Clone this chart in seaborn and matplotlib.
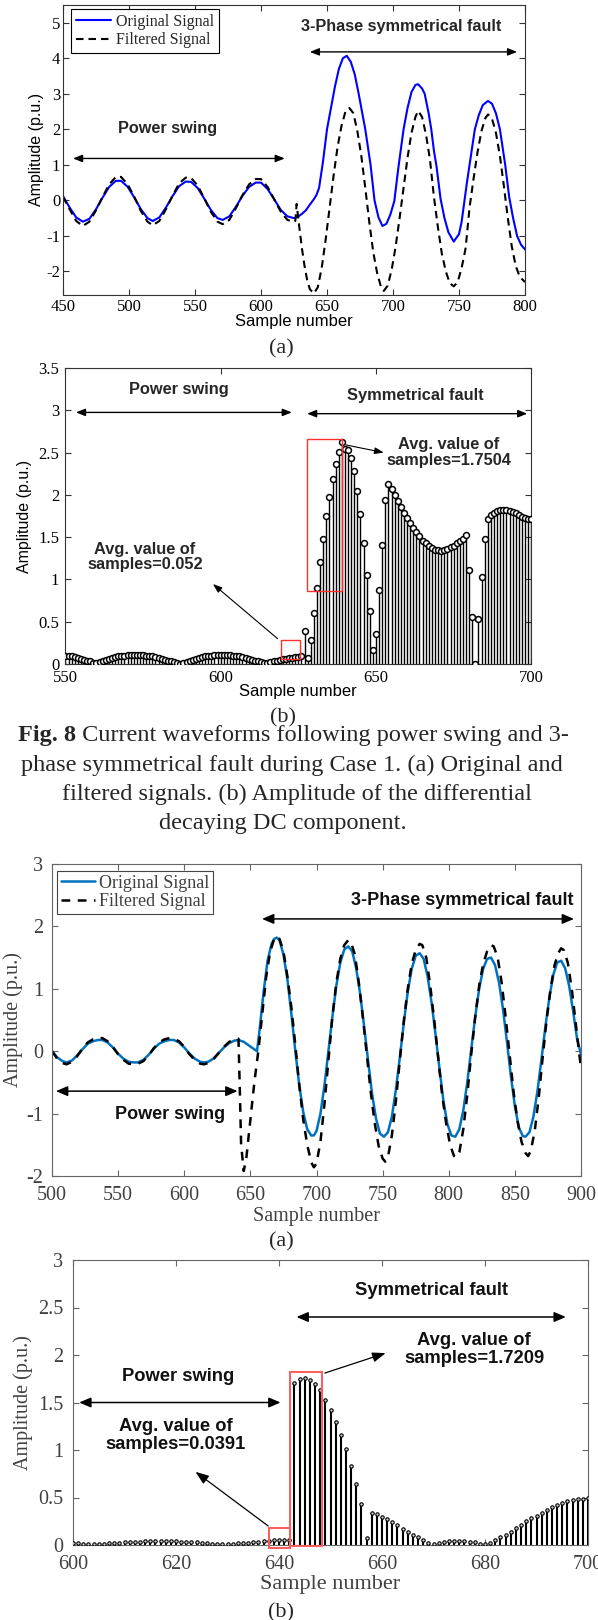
import numpy as np
import pandas as pd
import matplotlib
matplotlib.use("Agg")
import matplotlib.pyplot as plt
import seaborn as sns
from matplotlib.patches import Rectangle
from matplotlib.ticker import FuncFormatter

sns.set_style("ticks")
SERIF = ["Liberation Serif", "DejaVu Serif"]
SANS = ["Liberation Sans", "DejaVu Sans"]
plt.rcParams['font.family'] = SERIF
plt.rcParams['axes.unicode_minus'] = False

# ---------------- Panel 1 (Fig 8a) ----------------
p1_orig_x = [450, 455, 460, 465, 470, 475, 480, 485, 490, 494, 499, 504, 509, 514, 518, 523, 528, 533,
             538, 543, 547, 552, 557, 562, 567, 571, 576, 581, 586, 591, 596, 600, 605, 610, 615, 620,
             625, 628, 631, 634, 637, 640, 642, 644, 647, 650, 653, 656, 659, 662, 665, 668, 671, 674,
             677, 679, 681, 683, 686, 689, 692, 695, 698, 701, 704, 708, 711, 714, 717, 719, 722, 724,
             727, 729, 731, 733, 736, 739, 742, 746, 750, 752, 754, 756, 758, 762, 765, 768, 772, 775,
             778, 781, 783, 785, 788, 791, 794, 797, 800]
p1_orig_y = [0.12, -0.2, -0.48, -0.6, -0.52, -0.25, 0.08, 0.38, 0.55, 0.55, 0.38, 0.08, -0.25, -0.5,
             -0.58, -0.48, -0.2, 0.12, 0.4, 0.53, 0.52, 0.35, 0.05, -0.27, -0.5, -0.55, -0.45, -0.18,
             0.13, 0.38, 0.5, 0.5, 0.32, 0.03, -0.27, -0.45, -0.5, -0.46, -0.38, -0.28, -0.12, 0.03,
             0.15, 0.35, 1.1, 2.0, 2.6, 3.2, 3.7, 4.0, 4.07, 3.9, 3.55, 3.0, 2.4, 2.0, 1.5, 1.0, 0.0,
             -0.48, -0.72, -0.66, -0.4, -0.02, 0.9, 2.0, 2.6, 3.05, 3.25, 3.27, 3.15, 3.0, 2.45, 2.0,
             1.4, 0.95, 0.05, -0.5, -0.9, -1.16, -0.95, -0.6, -0.05, 0.5, 1.0, 2.0, 2.4, 2.68, 2.8,
             2.72, 2.45, 2.0, 1.5, 1.0, 0.1, -0.5, -1.0, -1.25, -1.38]
p1_filt_x = [450, 455, 460, 465, 470, 475, 480, 485, 490, 494, 499, 504, 509, 514, 518, 523, 528, 533,
             538, 543, 547, 552, 557, 562, 567, 571, 576, 581, 586, 591, 596, 600, 605, 610, 615, 620,
             624, 626, 627, 629, 631, 633, 635, 637, 640, 643, 646, 649, 652, 655, 658, 661, 664, 667,
             670, 673, 676, 679, 682, 685, 688, 691, 693, 696, 699, 702, 705, 708, 711, 714, 717, 719,
             722, 725, 728, 731, 734, 737, 740, 743, 746, 749, 752, 755, 758, 761, 764, 767, 770, 772,
             775, 778, 781, 784, 787, 790, 793, 796, 800]
p1_filt_y = [0.1, -0.25, -0.58, -0.72, -0.6, -0.28, 0.1, 0.45, 0.66, 0.66, 0.45, 0.1, -0.3, -0.6, -0.7,
             -0.58, -0.25, 0.13, 0.48, 0.64, 0.63, 0.42, 0.06, -0.32, -0.6, -0.67, -0.55, -0.22, 0.15,
             0.45, 0.6, 0.6, 0.38, 0.03, -0.32, -0.55, -0.6, -0.58, -0.1, -0.75, -1.35, -1.85, -2.25,
             -2.5, -2.62, -2.45, -1.9, -1.1, -0.2, 0.7, 1.5, 2.1, 2.5, 2.6, 2.45, 1.95, 1.25, 0.35,
             -0.6, -1.45, -2.05, -2.45, -2.55, -2.4, -1.95, -1.3, -0.5, 0.35, 1.2, 1.9, 2.35, 2.52,
             2.35, 1.85, 1.15, 0.1, -0.75, -1.5, -2.0, -2.33, -2.42, -2.3, -1.9, -1.35, -0.2, 0.6,
             1.35, 1.95, 2.32, 2.42, 2.3, 1.9, 1.25, 0.4, -0.5, -1.3, -1.85, -2.15, -2.3]

# ---------------- Panel 2 (Fig 8b) ----------------
p2_x = list(range(550, 701))
p2_y = [0.10, 0.10, 0.09, 0.08, 0.07, 0.06, 0.05, 0.04, 0.03, 0.015,
        0.01, 0.02, 0.03, 0.045, 0.06, 0.07, 0.08, 0.09, 0.095, 0.10,
        0.105, 0.11, 0.11, 0.11, 0.11, 0.105, 0.10, 0.095, 0.09, 0.08,
        0.07, 0.06, 0.05, 0.04, 0.03, 0.02, 0.01, 0.005, 0.01, 0.02,
        0.035, 0.05, 0.06, 0.07, 0.08, 0.09, 0.095, 0.10, 0.105, 0.11,
        0.11, 0.11, 0.11, 0.105, 0.10, 0.095, 0.09, 0.08, 0.07, 0.06,
        0.05, 0.04, 0.03, 0.02, 0.01, 0.01, 0.02, 0.03, 0.04, 0.05,
        0.06, 0.065, 0.07, 0.075, 0.08, 0.085, 0.09,
        0.39, 0.07, 0.28, 0.60, 0.90, 1.21, 1.48, 1.75, 1.98, 2.19,
        2.36, 2.51, 2.62, 2.54, 2.53, 2.44, 2.28, 2.05, 1.77, 1.43,
        1.05, 0.63, 0.16, 0.35, 0.87, 1.41, 1.94, 2.13, 2.07, 2.00,
        1.93, 1.86, 1.79, 1.73, 1.67, 1.61, 1.56, 1.51, 1.46, 1.43,
        1.40, 1.37, 1.35, 1.35, 1.34, 1.35, 1.36, 1.38, 1.40, 1.43,
        1.46, 1.48, 1.52, 1.11, 0.55, 0.00, 0.53, 1.03, 1.48, 1.72,
        1.76, 1.79, 1.81, 1.82, 1.82, 1.82, 1.81, 1.80, 1.78, 1.76,
        1.74, 1.73, 1.72, 1.71]

# ---------------- Panel 3 (Fig 9a) ----------------
p3_orig_x = [500, 504, 508, 511, 515, 519, 523, 527, 531, 535, 538, 542, 546, 550, 554, 558, 562, 565,
             569, 573, 577, 581, 585, 589, 592, 596, 600, 604, 608, 612, 615, 618, 622, 626, 630, 634,
             638, 641, 645, 649, 653, 655, 657, 660, 663, 666, 668, 670, 672, 675, 678, 681, 684, 687,
             690, 693, 696, 698, 700, 703, 706, 709, 712, 715, 718, 721, 724, 727, 730, 733, 736, 739,
             742, 745, 748, 751, 754, 757, 760, 763, 766, 769, 772, 775, 778, 781, 784, 787, 790, 793,
             796, 799, 802, 805, 808, 811, 814, 817, 820, 823, 826, 829, 832, 835, 838, 841, 844, 847,
             850, 853, 856, 858, 861, 864, 867, 870, 873, 876, 879, 882, 885, 888, 891, 894, 897, 900]
p3_orig_y = [0.0, -0.1, -0.16, -0.18, -0.15, -0.07, 0.03, 0.12, 0.16, 0.18, 0.18, 0.14, 0.06, -0.04,
             -0.12, -0.17, -0.18, -0.18, -0.14, -0.06, 0.04, 0.12, 0.16, 0.18, 0.18, 0.14, 0.06, -0.04,
             -0.12, -0.17, -0.18, -0.17, -0.12, -0.03, 0.06, 0.13, 0.17, 0.18, 0.15, 0.09, 0.03, 0.0,
             0.35, 0.95, 1.45, 1.72, 1.8, 1.82, 1.78, 1.55, 1.15, 0.6, 0.0, -0.55, -0.98, -1.25, -1.35,
             -1.35, -1.28, -1.0, -0.55, 0.0, 0.55, 1.05, 1.42, 1.63, 1.68, 1.6, 1.33, 0.92, 0.4, -0.15,
             -0.68, -1.08, -1.32, -1.37, -1.3, -1.05, -0.62, -0.1, 0.45, 0.95, 1.32, 1.53, 1.57, 1.48,
             1.2, 0.78, 0.27, -0.28, -0.8, -1.17, -1.35, -1.37, -1.25, -0.95, -0.5, 0.03, 0.55, 1.0,
             1.32, 1.48, 1.5, 1.38, 1.1, 0.68, 0.15, -0.4, -0.88, -1.22, -1.36, -1.37, -1.3, -1.05,
             -0.65, -0.15, 0.38, 0.85, 1.22, 1.42, 1.45, 1.33, 1.05, 0.65, 0.2, -0.05]
p3_filt_x = [500, 504, 508, 511, 515, 519, 523, 527, 531, 535, 538, 542, 546, 550, 554, 558, 562, 565,
             569, 573, 577, 581, 585, 589, 592, 596, 600, 604, 608, 612, 615, 618, 622, 626, 630, 634,
             638, 641, 642, 643, 645, 647, 650, 653, 656, 659, 662, 665, 668, 670, 672, 675, 678, 681,
             684, 687, 690, 693, 696, 698, 700, 703, 706, 709, 712, 715, 718, 721, 724, 726, 729, 732,
             735, 738, 741, 744, 747, 750, 752, 754, 757, 760, 763, 766, 769, 772, 775, 778, 780, 783,
             786, 789, 792, 795, 798, 801, 804, 806, 808, 811, 814, 817, 820, 823, 826, 829, 832, 834,
             837, 840, 843, 846, 849, 852, 855, 858, 860, 862, 865, 868, 871, 874, 877, 880, 883, 885,
             887, 890, 893, 896, 899, 900]
p3_filt_y = [0.0, -0.12, -0.19, -0.21, -0.17, -0.08, 0.04, 0.14, 0.19, 0.21, 0.21, 0.16, 0.07, -0.05,
             -0.14, -0.2, -0.21, -0.2, -0.16, -0.07, 0.05, 0.14, 0.19, 0.21, 0.2, 0.16, 0.07, -0.05,
             -0.14, -0.2, -0.21, -0.19, -0.13, -0.03, 0.07, 0.15, 0.19, 0.2, -0.6, -1.5, -1.92, -1.7,
             -1.1, -0.5, 0.0, 0.6, 1.2, 1.6, 1.8, 1.84, 1.8, 1.6, 1.2, 0.7, 0.1, -0.55, -1.1, -1.5,
             -1.78, -1.86, -1.8, -1.45, -0.85, -0.15, 0.55, 1.1, 1.48, 1.7, 1.78, 1.75, 1.55, 1.1, 0.55,
             -0.05, -0.65, -1.15, -1.52, -1.72, -1.77, -1.7, -1.35, -0.8, -0.15, 0.48, 1.0, 1.4, 1.62,
             1.72, 1.7, 1.5, 1.05, 0.5, -0.1, -0.7, -1.15, -1.5, -1.68, -1.7, -1.62, -1.25, -0.7,
             -0.05, 0.55, 1.05, 1.4, 1.6, 1.7, 1.68, 1.5, 1.1, 0.55, -0.05, -0.65, -1.12, -1.45, -1.63,
             -1.68, -1.6, -1.28, -0.75, -0.1, 0.5, 1.0, 1.38, 1.58, 1.65, 1.62, 1.42, 1.0, 0.45, -0.1,
             -0.25]

# ---------------- Panel 4 (Fig 9b) ----------------
p4_x = list(range(600, 701))
p4_y = [0.02, 0.02, 0.015, 0.01, 0.01, 0.01, 0.015, 0.02, 0.02, 0.025,
        0.03, 0.035, 0.035, 0.035, 0.04, 0.04, 0.045, 0.045, 0.04, 0.04,
        0.04, 0.035, 0.035, 0.03, 0.03, 0.025, 0.02, 0.015, 0.01, 0.01,
        0.01, 0.015, 0.02, 0.02, 0.025, 0.03, 0.035, 0.04, 0.045, 0.05,
        0.05, 0.055, 0.055,
        1.71, 1.75, 1.76, 1.74, 1.69, 1.63, 1.53,
        1.42, 1.30, 1.16, 1.01, 0.83, 0.64, 0.43, 0.07, 0.34, 0.33,
        0.30, 0.27, 0.24, 0.21, 0.17, 0.14, 0.11, 0.08, 0.05, 0.02,
        0.01, 0.02, 0.03, 0.04, 0.04, 0.04, 0.04, 0.035, 0.03, 0.015,
        0.01, 0.02, 0.05, 0.08, 0.11, 0.14, 0.18, 0.21, 0.25, 0.28,
        0.31, 0.34, 0.37, 0.40, 0.42, 0.44, 0.46, 0.47, 0.48, 0.485,
        0.49]

legend_labels = ["Original Signal", "Filtered Signal"]
caption_bold = "Fig. 8"
caption_lines = [" Current waveforms following power swing and 3-",
                 "phase symmetrical fault during Case 1. (a) Original and",
                 "filtered signals. (b) Amplitude of the differential",
                 "decaying DC component."]

# ---------------- figure ----------------
W, H = 598, 1620
fig = plt.figure(figsize=(W / 100, H / 100), dpi=100)


def add_ax(x0, x1, y0, y1):
    return fig.add_axes([x0 / W, 1 - y1 / H, (x1 - x0) / W, (y1 - y0) / H])


def ftext(x, y, s, **kw):
    return fig.text(x / W, 1 - y / H, s, **kw)


def style_ax(ax, spine_color, tick_size, label_color, xpad, ypad):
    for s in ax.spines.values():
        s.set_visible(True)
        s.set_color(spine_color)
        s.set_linewidth(0.8)
    ax.tick_params(direction='in', top=True, right=True, length=4, width=0.8,
                   color=spine_color, labelsize=tick_size, labelcolor=label_color)
    ax.tick_params(axis='x', pad=xpad)
    ax.tick_params(axis='y', pad=ypad)
    for lab in ax.get_xticklabels() + ax.get_yticklabels():
        lab.set_family(SERIF)


gfmt = FuncFormatter(lambda v, p: f"{v:g}")

def darrow(ax, x0, x1, y, lw=1.0, hl=0.55, hw=0.22):
    ax.annotate('', xy=(x1, y), xytext=(x0, y),
                arrowprops=dict(arrowstyle=f'<|-|>,head_length={hl},head_width={hw}',
                                color='black', lw=lw, shrinkA=0, shrinkB=0))

def sarrow(ax, x0, y0, x1, y1, lw=0.8, hl=0.55, hw=0.2):
    ax.annotate('', xy=(x1, y1), xytext=(x0, y0),
                arrowprops=dict(arrowstyle=f'-|>,head_length={hl},head_width={hw}',
                                color='black', lw=lw, shrinkA=0, shrinkB=0))

# ---- Panel 1 ----
ax1 = add_ax(63, 525, 5, 294.5)
sns.lineplot(x=p1_orig_x, y=p1_orig_y, ax=ax1, color='#0000FF', lw=1.5,
             label=legend_labels[0], sort=False, estimator=None)
sns.lineplot(x=p1_filt_x, y=p1_filt_y, ax=ax1, color='black', lw=1.5,
             linestyle=(0, (3.6, 2.4)), label=legend_labels[1], sort=False, estimator=None)
ax1.set_xlim(450, 800)
ax1.set_ylim(-2.65, 5.5)
ax1.set_xticks(range(450, 801, 50))
ax1.set_yticks(range(-2, 6))
style_ax(ax1, '#333333', 12, 'black', 3, 2)
ax1.set_xlabel("Sample number", family=SANS, fontsize=12, color='black')
ax1.xaxis.label.set_va('center')
ax1.xaxis.set_label_coords(0.5, -0.094)
ax1.set_ylabel("Amplitude (p.u.)", family=SANS, fontsize=11.5, color='black')
ax1.yaxis.label.set_va('center')
ax1.yaxis.set_label_coords(-0.058, 0.5)
leg = ax1.legend(loc='upper left', bbox_to_anchor=(0.0173, 0.986), borderaxespad=0,
                 prop={'family': SERIF, 'size': 11.5}, handlelength=2.2, handletextpad=0.3,
                 labelspacing=0.15, borderpad=0.3, frameon=True, fancybox=False,
                 edgecolor='black', framealpha=1)
leg.get_frame().set_linewidth(0.8)
ax1.text(706, 4.89, "3-Phase symmetrical fault", family=SANS, fontweight='bold', fontsize=11.7,
         ha='center', va='center')
darrow(ax1, 637, 794, 4.18)
ax1.text(529, 2.01, "Power swing", family=SANS, fontweight='bold', fontsize=11.7,
         ha='center', va='center')
darrow(ax1, 457.6, 618, 1.18)
ftext(281, 349, "(a)", family=SERIF, fontsize=16, ha='center', va='center')

# ---- Panel 2 ----
ax2 = add_ax(65.4, 531.3, 368, 664)
ax2.vlines(p2_x, 0, p2_y, colors='black', lw=1.0, zorder=2)
sns.scatterplot(x=p2_x, y=p2_y, ax=ax2, marker='o', s=18, facecolor='white',
                edgecolor='black', linewidth=1.1, zorder=3, clip_on=True)
ax2.set_xlim(550, 700)
ax2.set_ylim(0, 3.5)
ax2.set_xticks([550, 600, 650, 700])
ax2.set_yticks(np.arange(0, 3.51, 0.5))
ax2.yaxis.set_major_formatter(gfmt)
style_ax(ax2, '#333333', 12, 'black', 4, 4.5)
ax2.set_xlabel("Sample number", family=SANS, fontsize=12, color='black')
ax2.xaxis.label.set_va('center')
ax2.xaxis.set_label_coords(0.5, -0.0936)
ax2.set_ylabel("Amplitude (p.u.)", family=SANS, fontsize=11.5, color='black')
ax2.yaxis.label.set_va('center')
ax2.yaxis.set_label_coords(-0.0874, 0.5)
ax2.text(586.6, 3.24, "Power swing", family=SANS, fontweight='bold', fontsize=11.8,
         ha='center', va='center')
darrow(ax2, 553.4, 622.9, 2.975)
ax2.text(662.8, 3.18, "Symmetrical fault", family=SANS, fontweight='bold', fontsize=11.8,
         ha='center', va='center')
darrow(ax2, 627.8, 698.7, 2.96)
ax2.add_patch(Rectangle((627.8, 0.866), 639 - 627.8, 2.66 - 0.866, fill=False,
                        edgecolor='#ff3030', lw=1.0, zorder=4))
ax2.add_patch(Rectangle((619.5, 0.056), 625.6 - 619.5, 0.284 - 0.056, fill=False,
                        edgecolor='#ff3030', lw=1.0, zorder=4))
ax2.text(673.5, 2.50, "Avg. value of\nsamples=1.7504", family=SANS, fontweight='bold',
         fontsize=11.8, ha='center', va='center', linespacing=1.05)
sarrow(ax2, 640.3, 2.59, 652.5, 2.5)
ax2.text(575.6, 1.265, "Avg. value of\nsamples=0.052", family=SANS, fontweight='bold',
         fontsize=11.8, ha='center', va='center', linespacing=1.05)
sarrow(ax2, 618.3, 0.30, 597.5, 0.946)
ftext(283, 718, "(b)", family=SERIF, fontsize=16, ha='center', va='center')

# ---- Caption ----
CAP_SIZE = 17.5
renderer = fig.canvas.get_renderer()
tb = ftext(0, 741, caption_bold, family=SERIF, fontsize=CAP_SIZE, fontweight='bold', va='baseline')
tr = ftext(0, 741, caption_lines[0], family=SERIF, fontsize=CAP_SIZE, va='baseline')
wb = tb.get_window_extent(renderer).width
wr = tr.get_window_extent(renderer).width
x0 = 293 - (wb + wr) / 2
tb.set_x(x0 / W)
tr.set_x((x0 + wb) / W)
for txt, yb, xc in zip(caption_lines[1:], [770.5, 800, 829.5], [292, 297, 283]):
    ftext(xc, yb, txt, family=SERIF, fontsize=CAP_SIZE, ha='center', va='baseline')

# ---- Panel 3 ----
BLUE3 = '#0072BD'
GREY = '#404040'
ax3 = add_ax(52, 581, 864, 1176)
sns.lineplot(x=p3_orig_x, y=p3_orig_y, ax=ax3, color=BLUE3, lw=1.8,
             label=legend_labels[0], sort=False, estimator=None)
sns.lineplot(x=p3_filt_x, y=p3_filt_y, ax=ax3, color='black', lw=1.8,
             linestyle=(0, (3.5, 3.0)), label=legend_labels[1], sort=False, estimator=None)
ax3.set_xlim(500, 900)
ax3.set_ylim(-2, 3)
ax3.set_xticks(range(500, 901, 50))
ax3.set_yticks(range(-2, 4))
style_ax(ax3, '#666666', 14.5, GREY, 7, 6.5)
ax3.set_xlabel("Sample number", family=SERIF, fontsize=14.5, color=GREY)
ax3.xaxis.label.set_va('center')
ax3.xaxis.set_label_coords(0.5, -0.130)
ax3.set_ylabel("Amplitude (p.u.)", family=SERIF, fontsize=14.5, color=GREY)
ax3.yaxis.label.set_va('center')
ax3.yaxis.set_label_coords(-0.073, 0.5)
leg3 = ax3.legend(loc='upper left', bbox_to_anchor=(0.0095, 0.9776), borderaxespad=0,
                  prop={'family': SERIF, 'size': 13}, handlelength=1.9, handletextpad=0.25,
                  labelspacing=0.1, borderpad=0.2, frameon=True, fancybox=False,
                  edgecolor='#444444', framealpha=1)
leg3.get_frame().set_linewidth(0.8)
for t in leg3.get_texts():
    t.set_color(GREY)
ax3.text(810.5, 2.42, "3-Phase symmetrical fault", family=SANS, fontweight='bold',
         fontsize=13, ha='center', va='center', color='#111111')
darrow(ax3, 658.8, 894.7, 2.12, lw=1.1, hl=0.7, hw=0.3)
ax3.text(589.6, -1.02, "Power swing", family=SANS, fontweight='bold', fontsize=13,
         ha='center', va='center', color='#111111')
darrow(ax3, 503, 640.3, -0.64, lw=1.1, hl=0.7, hw=0.3)
ftext(281, 1241.7, "(a)", family=SERIF, fontsize=16, ha='center', va='center')

# ---- Panel 4 ----
ax4 = add_ax(73, 588, 1260, 1545)
ax4.vlines(p4_x, 0, p4_y, colors='black', lw=1.5, zorder=2)
sns.scatterplot(x=p4_x, y=p4_y, ax=ax4, marker='o', s=6, facecolor='#cccccc',
                edgecolor='black', linewidth=0.8, zorder=3)
ax4.set_xlim(600, 700)
ax4.set_ylim(0, 3)
ax4.set_xticks(range(600, 701, 20))
ax4.set_yticks(np.arange(0, 3.01, 0.5))
ax4.yaxis.set_major_formatter(gfmt)
style_ax(ax4, '#666666', 14.5, GREY, 7, 7)
ax4.set_xlabel("Sample number", family=SERIF, fontsize=16, color=GREY)
ax4.xaxis.label.set_va('center')
ax4.xaxis.set_label_coords(0.5, -0.140)
ax4.set_ylabel("Amplitude (p.u.)", family=SERIF, fontsize=14.5, color=GREY)
ax4.yaxis.label.set_va('center')
ax4.yaxis.set_label_coords(-0.0959, 0.5)
ax4.text(669.7, 2.68, "Symmetrical fault", family=SANS, fontweight='bold', fontsize=13.2,
         ha='center', va='center', color='#111111')
darrow(ax4, 643.4, 695.7, 2.40, lw=1.1, hl=0.7, hw=0.3)
ax4.text(620.5, 1.77, "Power swing", family=SANS, fontweight='bold', fontsize=13.2,
         ha='center', va='center', color='#111111')
darrow(ax4, 601.2, 640.3, 1.50, lw=1.1, hl=0.7, hw=0.3)
ax4.text(677.9, 2.06, "Avg. value of\nsamples=1.7209", family=SANS, fontweight='bold',
         fontsize=13.2, ha='center', va='center', linespacing=1.1, color='#111111')
sarrow(ax4, 648.9, 1.81, 660.7, 2.02, lw=0.9, hl=0.8, hw=0.3)
ax4.text(619.9, 1.15, "Avg. value of\nsamples=0.0391", family=SANS, fontweight='bold',
         fontsize=13.2, ha='center', va='center', linespacing=1.1, color='#111111')
sarrow(ax4, 637.9, 0.2, 623.8, 0.77, lw=0.9, hl=0.8, hw=0.3)
ax4.add_patch(Rectangle((642.1, -0.01), 648.4 - 642.1, 1.83, fill=False,
                        edgecolor='#ff5a5a', lw=1.4, zorder=4, clip_on=False))
ax4.add_patch(Rectangle((638.1, -0.035), 642.1 - 638.1, 0.215, fill=False,
                        edgecolor='#ff5a5a', lw=1.4, zorder=4, clip_on=False))
ftext(281, 1613, "(b)", family=SERIF, fontsize=16, ha='center', va='center')

fig.savefig("out.png", dpi=100)
